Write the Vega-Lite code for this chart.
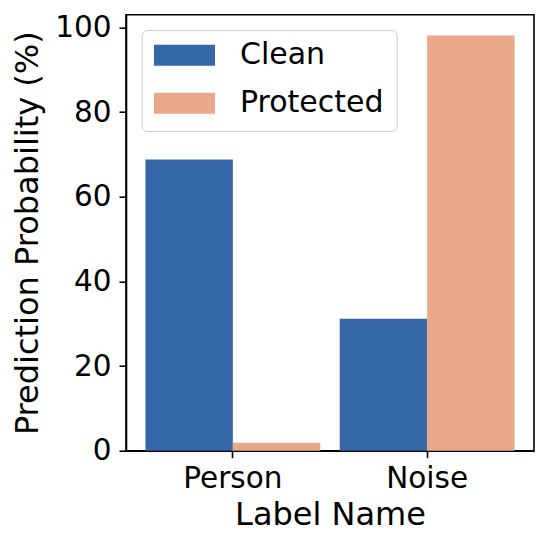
{
  "$schema": "https://vega.github.io/schema/vega-lite/v6.json",
  "autosize": "none",
  "padding": {"left": 126, "top": 14.7, "right": 14, "bottom": 98.3},
  "width": 408,
  "height": 436,
  "data": {
    "values": [
      {"label": "Person", "series": "Clean", "prob": 68.8},
      {"label": "Person", "series": "Protected", "prob": 1.9},
      {"label": "Noise", "series": "Clean", "prob": 31.2},
      {"label": "Noise", "series": "Protected", "prob": 98.1}
    ]
  },
  "mark": {"type": "bar"},
  "encoding": {
    "x": {
      "field": "label",
      "type": "nominal",
      "sort": ["Person", "Noise"],
      "scale": {"paddingInner": 0.1, "paddingOuter": 0.1},
      "axis": {
        "title": "Label Name",
        "labelAngle": 0,
        "labelFontSize": 29.5,
        "titleFontSize": 32,
        "labelFont": "DejaVu Sans",
        "titleFont": "DejaVu Sans",
        "titleFontWeight": "normal",
        "labelColor": "black",
        "titleColor": "black",
        "tickColor": "black",
        "domainColor": "black",
        "tickSize": 7,
        "tickWidth": 1.6,
        "domainWidth": 1.6,
        "labelPadding": 7,
        "titlePadding": 6,
        "grid": false
      }
    },
    "xOffset": {
      "field": "series",
      "type": "nominal",
      "sort": ["Clean", "Protected"],
      "scale": {"paddingInner": 0, "paddingOuter": 0}
    },
    "y": {
      "field": "prob",
      "type": "quantitative",
      "scale": {"domain": [0, 103.0], "nice": false},
      "axis": {
        "title": "Prediction Probability (%)",
        "values": [0, 20, 40, 60, 80, 100],
        "labelFontSize": 29.5,
        "titleFontSize": 32,
        "labelFont": "DejaVu Sans",
        "titleFont": "DejaVu Sans",
        "titleFontWeight": "normal",
        "labelColor": "black",
        "titleColor": "black",
        "tickColor": "black",
        "domainColor": "black",
        "tickSize": 7,
        "tickWidth": 1.6,
        "domainWidth": 1.6,
        "labelPadding": 8,
        "titlePadding": 10,
        "grid": false
      }
    },
    "color": {
      "field": "series",
      "type": "nominal",
      "sort": ["Clean", "Protected"],
      "scale": {"domain": ["Clean", "Protected"], "range": ["#3667a8", "#e9a887"]},
      "legend": {
        "title": null,
        "orient": "none",
        "legendX": 15.7,
        "legendY": 15.3,
        "padding": 12.3,
        "fillColor": "white",
        "strokeColor": "#cccccc",
        "cornerRadius": 5,
        "symbolType": "M-1,-0.344L1,-0.344L1,0.344L-1,0.344Z",
        "symbolSize": 3721,
        "symbolStrokeWidth": 0,
        "symbolOpacity": 1,
        "clipHeight": 26,
        "rowPadding": 18,
        "labelOffset": 25,
        "labelFontSize": 30,
        "labelFont": "DejaVu Sans",
        "labelColor": "black",
        "labelLimit": 400
      }
    }
  },
  "config": {
    "view": {"stroke": "black", "strokeWidth": 1.6},
    "bar": {"stroke": null}
  }
}
